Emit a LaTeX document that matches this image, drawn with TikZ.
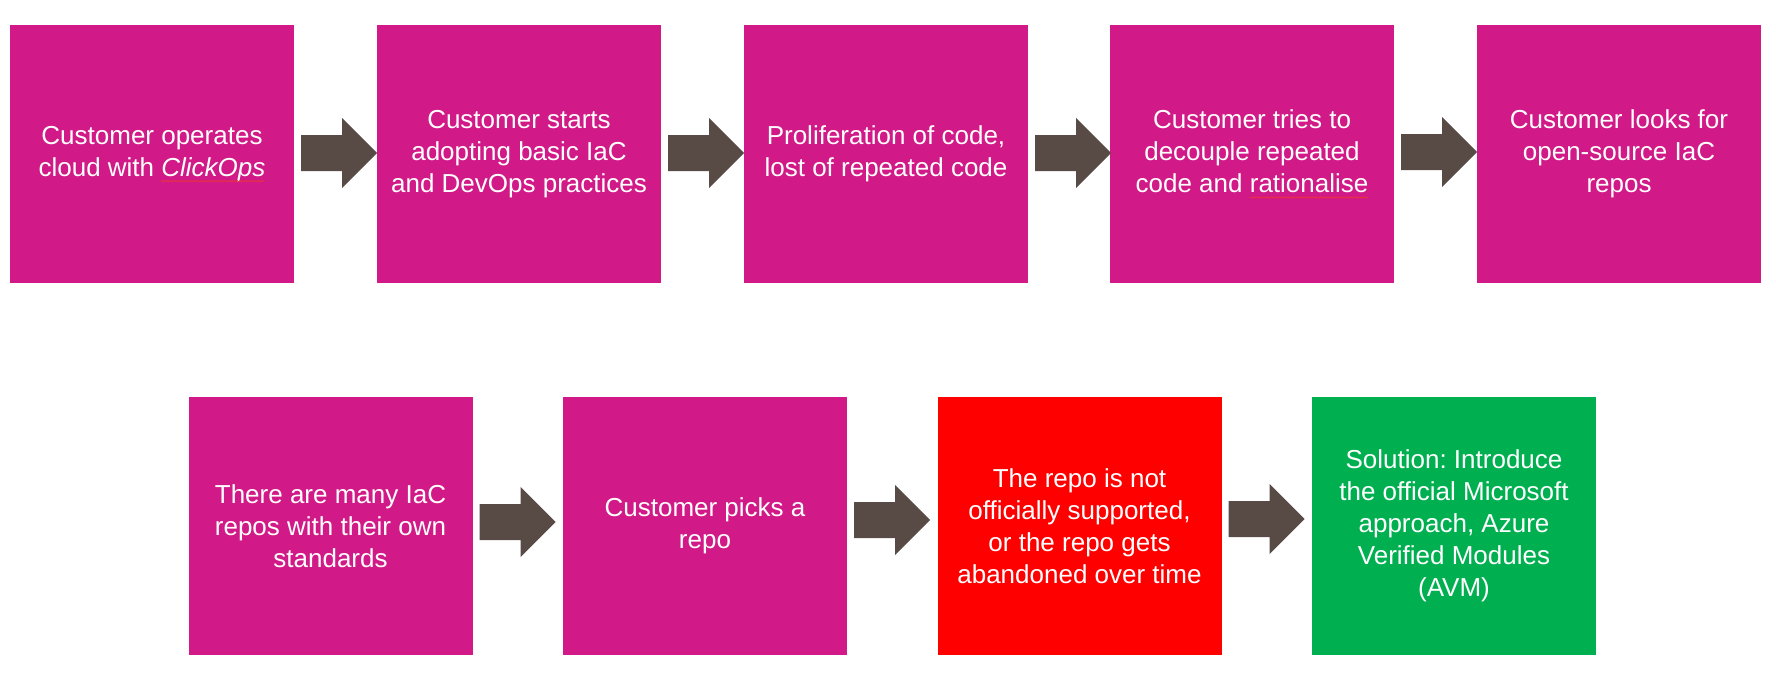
\documentclass[tikz,border=0pt]{standalone}
\usepackage{fontspec}
\setmainfont{Liberation Sans}
\usetikzlibrary{calc,decorations.pathmorphing}
\definecolor{mag}{RGB}{209,26,135}
\definecolor{redbox}{RGB}{255,0,0}
\definecolor{greenbox}{RGB}{0,176,80}
\definecolor{arrc}{RGB}{88,75,70}
\definecolor{spellred}{RGB}{235,50,60}
\frenchspacing
\newsavebox\spellbox
\newcommand\spellmark[1]{\sbox\spellbox{#1}\usebox\spellbox\llap{\tikz[baseline=0pt,x=1pt,y=1pt]\draw[spellred,line width=0.7pt,decorate,decoration={snake,amplitude=0.6pt,segment length=2.6pt}] (0,-5) -- (\the\wd\spellbox,-5);}}
\tikzset{
  stepbox/.style={minimum width=284pt, minimum height=258pt, inner sep=0pt,
    text=white, align=center, font=\fontsize{26}{32}\selectfont},
  magbox/.style={stepbox, fill=mag},
  redstep/.style={stepbox, fill=redbox},
  greenstep/.style={stepbox, fill=greenbox},
  blockarr/.style={fill=arrc}
}
\begin{document}
\begin{tikzpicture}[x=1pt,y=-1pt]
\useasboundingbox (0,0) rectangle (1776,677);
% top row
\node[magbox] (b1) at (152,154) {Customer operates\\cloud with \spellmark{\textit{ClickOps}}};
\node[magbox] (b2) at (519,154) {Customer starts\\adopting basic IaC\\and DevOps practices};
\node[magbox] (b3) at (886,154) {Proliferation of code,\\lost of repeated code};
\node[magbox] (b4) at (1252,154) {Customer tries to\\decouple repeated\\code and \spellmark{rationalise}};
\node[magbox] (b5) at (1619,154) {Customer looks for\\open-source IaC\\repos};
% bottom row
\node[magbox] (b6) at (330.5,526) {There are many IaC\\repos with their own\\standards};
\node[magbox] (b7) at (705,526) {Customer picks a\\repo};
\node[redstep] (b8) at (1079.5,526) {The repo is not\\officially supported,\\or the repo gets\\abandoned over time};
\node[greenstep] (b9) at (1454,526) {Solution: Introduce\\the official Microsoft\\approach, Azure\\Verified Modules\\(AVM)};
% block arrows
\foreach \a/\b/\d in {b1/b2/-1, b2/b3/-1, b3/b4/-1, b4/b5/-2, b6/b7/-4, b7/b8/-6, b8/b9/-7}{
  \fill[blockarr] ($(\a.east)+(7,\d-18)$) -- ++(41,0) -- ++(0,-17) -- ++(35,35)
     -- ++(-35,35) -- ++(0,-17) -- ++(-41,0) -- cycle;
}
\end{tikzpicture}
\end{document}
